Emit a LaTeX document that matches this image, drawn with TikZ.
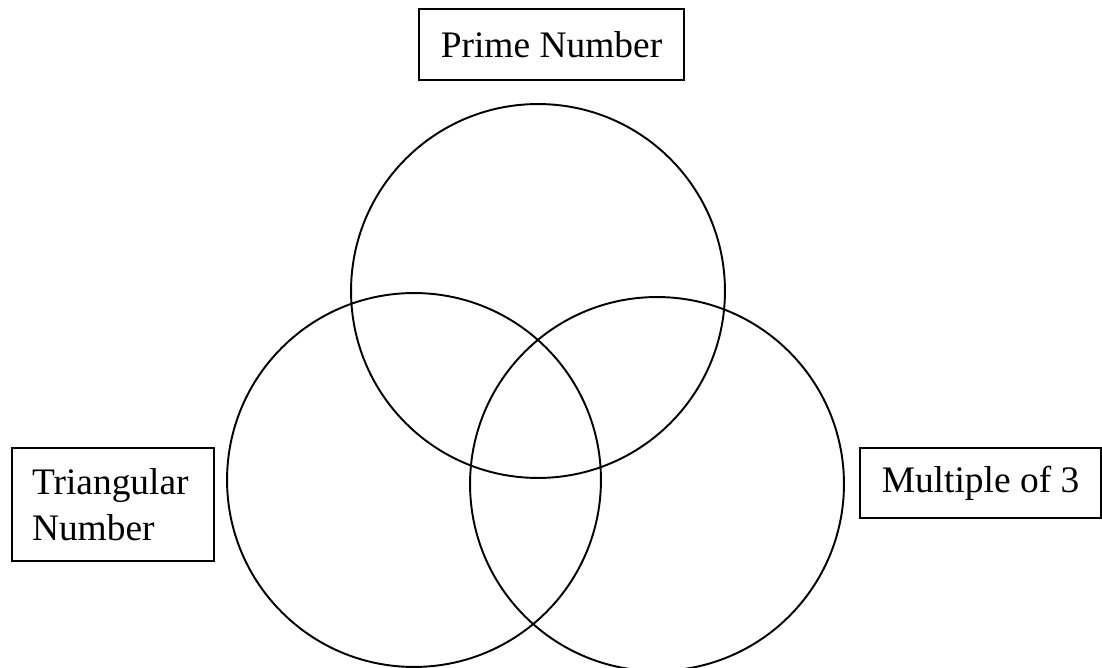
\documentclass[tikz,border=0pt]{standalone}
\usepackage{fontspec}
\setmainfont{Liberation Serif}
\usepackage{tikz}
\usetikzlibrary{positioning}

\begin{document}
\begin{tikzpicture}[x=0.02cm, y=-0.02cm,
  setcircle/.style={draw, circle, line width=1.1pt, minimum size=7.48cm, inner sep=0pt},
  labelbox/.style={draw, rectangle, line width=0.75pt, inner sep=0pt,
                   font=\fontsize{21.3}{26.2}\selectfont}]

% ==========================================
% Canvas
% ==========================================
\useasboundingbox (0,0) rectangle (1102,668);

% ==========================================
% Set Circles
% ==========================================
\node[setcircle] (prime) at (538,291) {};
\node[setcircle] (tri)   at (414,480) {};
\node[setcircle] (mult)  at (657,484) {};

% ==========================================
% Set Labels
% ==========================================
\node[labelbox, minimum width=5.3cm, minimum height=1.42cm] (primelbl) at (551.5,44.5) {Prime Number};
\node[labelbox, minimum width=4.04cm, minimum height=2.26cm, align=left, text width=3.24cm] (trilbl) at (113,504.5) {Triangular\\Number};
\node[labelbox, minimum width=4.82cm, minimum height=1.4cm] (multlbl) at (980.5,483) {Multiple of 3};

\end{tikzpicture}
\end{document}
